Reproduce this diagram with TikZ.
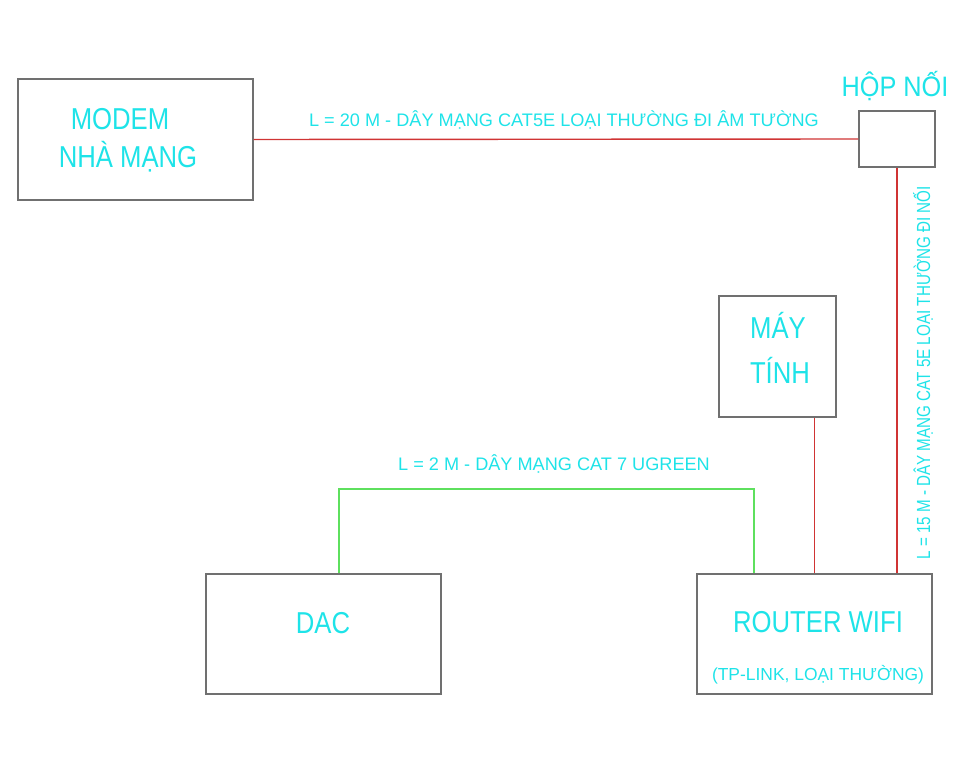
\documentclass[tikz,border=0pt]{standalone}
\usepackage{fontspec}
\setmainfont{Liberation Sans}
\newfontfamily\bigf[FakeStretch=0.85]{Liberation Sans}
\newfontfamily\hopf[FakeStretch=0.9]{Liberation Sans}
\newfontfamily\vertf[FakeStretch=0.8]{Liberation Sans}
\begin{document}
\begin{tikzpicture}[x=0.025cm,y=-0.025cm,
  box/.style={draw=boxgray,line width=0.9pt,rectangle,inner sep=0pt},
  red wire/.style={draw=wirered,line width=1pt},
  green wire/.style={draw=wiregreen,line width=1.2pt},
  big/.style={text=labcyan,font=\bigf\fontsize{21.5}{26}\selectfont,inner sep=0pt,anchor=base},
  mid/.style={text=labcyan,font=\hopf\fontsize{20}{24}\selectfont,inner sep=0pt,anchor=base},
  small/.style={text=labcyan,font=\fontsize{12.9}{16}\selectfont,inner sep=0pt,anchor=base},
  vsmall/.style={text=labcyan,font=\vertf\fontsize{13.5}{16}\selectfont,inner sep=0pt,anchor=base}]
\definecolor{boxgray}{HTML}{707070}
\definecolor{wirered}{HTML}{D03434}
\definecolor{wiregreen}{HTML}{5EE05E}
\definecolor{labcyan}{HTML}{1EE3E8}
\useasboundingbox (0,0) rectangle (960,768);
% boxes
\node[box,minimum width=5.875cm,minimum height=3.025cm] (modem) at (135.5,139.5) {};
\node[box,minimum width=1.9cm,minimum height=1.4cm] (hop) at (897,139) {};
\node[box,minimum width=2.925cm,minimum height=3.025cm] (may) at (777.5,356.5) {};
\node[box,minimum width=5.875cm,minimum height=3cm] (dac) at (323.5,634) {};
\node[box,minimum width=5.875cm,minimum height=3cm] (router) at (814.5,634) {};
% texts
\node[big] (t1) at (120,130) {MODEM};
\node[big] (t2) at (128,168) {NHÀ MẠNG};
\node[mid] (t3) at (895,97) {HỘP NỐI};
\node[big] (t4) at (778,338) {MÁY};
\node[big] (t5) at (780,383) {TÍNH};
\node[big] (t6) at (323,633) {DAC};
\node[big] (t7) at (818,632) {ROUTER WIFI};
\node[small,font=\fontsize{12.4}{15}\selectfont] (t8) at (818,680) {(TP-LINK, LOẠI THƯỜNG)};
\node[small] (l1) at (564,127) {L = 20 M - DÂY MẠNG CAT5E LOẠI THƯỜNG ĐI ÂM TƯỜNG};
\node[small] (l2) at (554,470) {L = 2 M - DÂY MẠNG CAT 7 UGREEN};
\node[vsmall,rotate=90] (l3) at (930,373) {L = 15 M - DÂY MẠNG CAT 5E LOẠI THƯỜNG ĐI NỐI};
% wires
\coordinate (g1) at (339,489);
\coordinate (g2) at (754,489);
\draw[red wire] (modem.east) -- (hop.west);
\draw[red wire] (hop.south) -- (hop.south |- router.north);
\draw[red wire] (router.north) -- (router.north |- may.south);
\draw[green wire] (g1 |- dac.north) -- (g1) -- (g2) -- (g2 |- router.north);
\end{tikzpicture}
\end{document}
